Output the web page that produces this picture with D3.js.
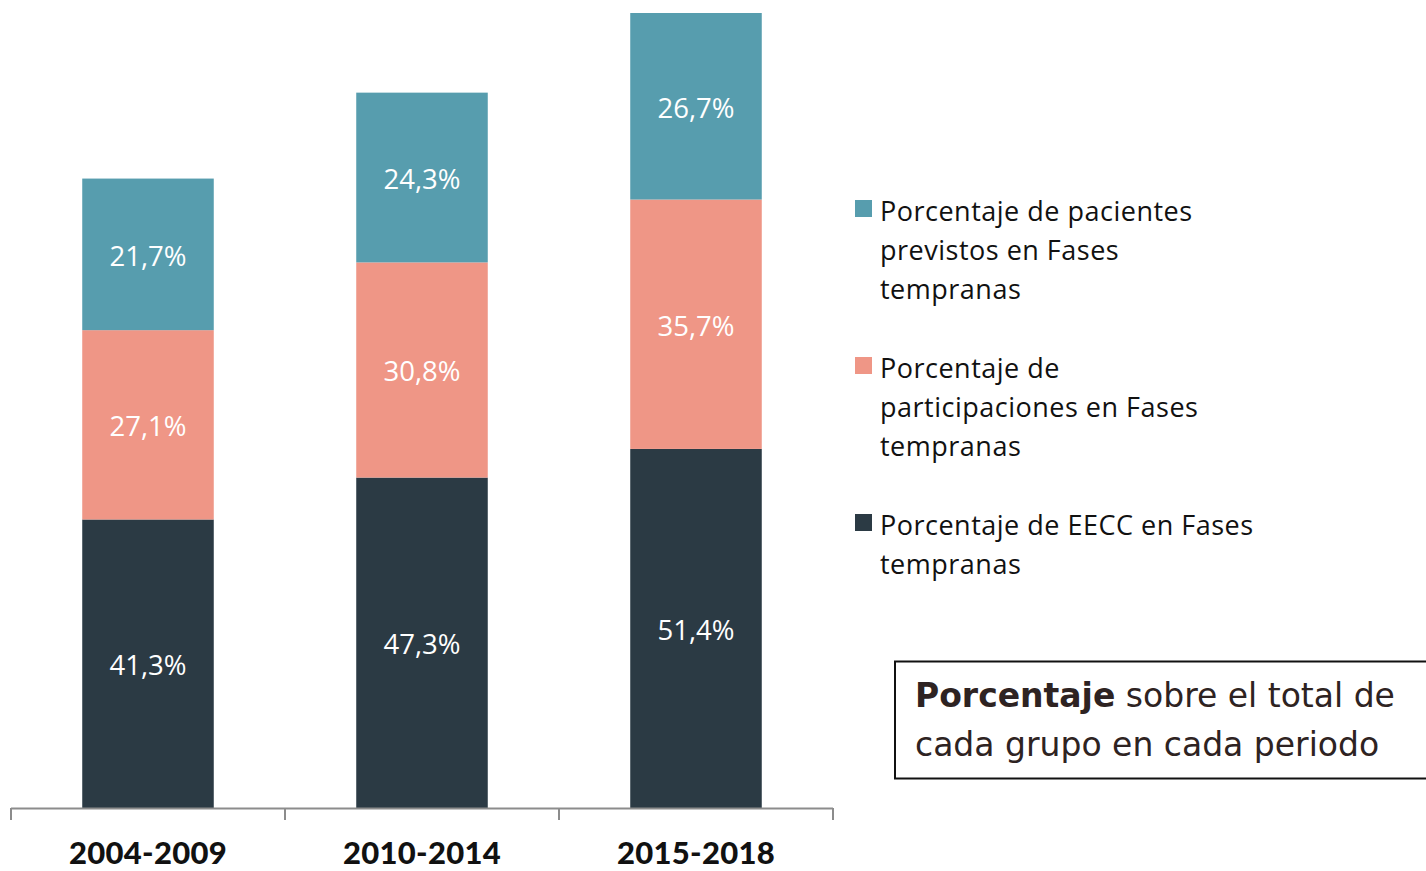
<!DOCTYPE html>
<html>
<head>
<meta charset="utf-8">
<script src="https://cdn.jsdelivr.net/npm/d3@7"></script>
<style>
  html, body { margin: 0; padding: 0; background: #ffffff; }
  svg { display: block; }
</style>
</head>
<body>
<svg id="chart" width="1426" height="871"></svg>
<script>
// Periods on the x axis
const periods = ["2004-2009", "2010-2014", "2015-2018"];
// Stack order, bottom to top
const seriesNames = [
  "Porcentaje de EECC en Fases tempranas",
  "Porcentaje de participaciones en Fases tempranas",
  "Porcentaje de pacientes previstos en Fases tempranas"
];
const eecc = [41.3, 47.3, 51.4];
const participaciones = [27.1, 30.8, 35.7];
const pacientes = [21.7, 24.3, 26.7];
const seriesColors = ["#2b3a44", "#ef9686", "#579dae"];

// Legend entries, top to bottom, wrapped as drawn
const legendLines = [
  ["Porcentaje de pacientes", "previstos en Fases", "tempranas"],
  ["Porcentaje de", "participaciones en Fases", "tempranas"],
  ["Porcentaje de EECC en Fases", "tempranas"]
];
const legendColors = ["#579dae", "#ef9686", "#2b3a44"];

const svg = d3.select("#chart");

const rows = periods.map((p, i) => ({
  period: p,
  s0: eecc[i], s1: participaciones[i], s2: pacientes[i]
}));
const stack = d3.stack().keys(["s0", "s1", "s2"]);
const layers = stack(rows);

const x = d3.scaleBand()
  .domain(periods)
  .range([11, 833])
  .paddingInner(0.52)
  .paddingOuter(0.26);

const y = d3.scaleLinear()
  .domain([0, 113.8])
  .range([808, 13]);

const fmt = v => d3.format(".1f")(v).replace(".", ",") + "%";

// Bars
const g = svg.append("g");
layers.forEach((layer, li) => {
  g.selectAll(null)
    .data(layer)
    .join("rect")
    .attr("x", d => x(d.data.period))
    .attr("width", x.bandwidth())
    .attr("y", d => y(d[1]))
    .attr("height", d => y(d[0]) - y(d[1]))
    .attr("fill", seriesColors[li]);

  g.selectAll(null)
    .data(layer)
    .join("text")
    .attr("x", d => x(d.data.period) + x.bandwidth() / 2)
    .attr("y", d => (y(d[0]) + y(d[1])) / 2 + 1)
    .attr("text-anchor", "middle")
    .attr("dominant-baseline", "central")
    .attr("fill", "#ffffff")
    .style("font-family", "'Open Sans', 'Noto Sans', sans-serif")
    .style("font-size", "27.5px")
    .text(d => fmt(d[1] - d[0]));
});

// X axis: baseline with ticks at category boundaries
const axisG = svg.append("g");
axisG.append("line")
  .attr("x1", 11).attr("x2", 833)
  .attr("y1", 808.5).attr("y2", 808.5)
  .attr("stroke", "#8c8c8c").attr("stroke-width", 2);
const boundaries = [x.range()[0]].concat(periods.map(p => x(p) + x.bandwidth() + x.step() * x.paddingInner() / 2));
boundaries[boundaries.length - 1] = x.range()[1];
axisG.selectAll(null)
  .data(boundaries)
  .join("line")
  .attr("x1", d => d).attr("x2", d => d)
  .attr("y1", 808).attr("y2", 820)
  .attr("stroke", "#8c8c8c").attr("stroke-width", 2);
axisG.selectAll(null)
  .data(periods)
  .join("text")
  .attr("x", d => x(d) + x.bandwidth() / 2)
  .attr("y", 864)
  .attr("text-anchor", "middle")
  .attr("fill", "#111111")
  .style("font-family", "Lato, 'Open Sans', sans-serif")
  .style("font-weight", "900")
  .style("font-size", "31px")
  .style("letter-spacing", "0.3px")
  .text(d => d);

// Legend
const legendTops = [210, 367, 524];
const lg = svg.append("g");
legendLines.forEach((lines, i) => {
  lg.append("rect")
    .attr("x", 855).attr("y", legendTops[i] - 10)
    .attr("width", 17).attr("height", 17)
    .attr("fill", legendColors[i]);
  lines.forEach((t, j) => {
    lg.append("text")
      .attr("x", 880)
      .attr("y", legendTops[i] + j * 39)
      .attr("dominant-baseline", "central")
      .attr("fill", "#111111")
      .style("font-family", "'Open Sans', 'Noto Sans', sans-serif")
      .style("font-size", "27px")
      .style("letter-spacing", "0.5px")
      .text(t);
  });
});

// Note box
const box = svg.append("g");
box.append("rect")
  .attr("x", 895).attr("y", 661.5)
  .attr("width", 540).attr("height", 117)
  .attr("fill", "#ffffff")
  .attr("stroke", "#111111").attr("stroke-width", 2);
const note1 = box.append("text")
  .attr("x", 915).attr("y", 707)
  .attr("fill", "#2e2322")
  .style("font-family", "'DejaVu Sans', Verdana, sans-serif")
  .style("font-size", "33px");
note1.append("tspan").style("font-weight", "bold").text("Porcentaje");
note1.append("tspan").text(" sobre el total de");
box.append("text")
  .attr("x", 915).attr("y", 756)
  .attr("fill", "#2e2322")
  .style("font-family", "'DejaVu Sans', Verdana, sans-serif")
  .style("font-size", "33px")
  .text("cada grupo en cada periodo");
</script>
</body>
</html>
